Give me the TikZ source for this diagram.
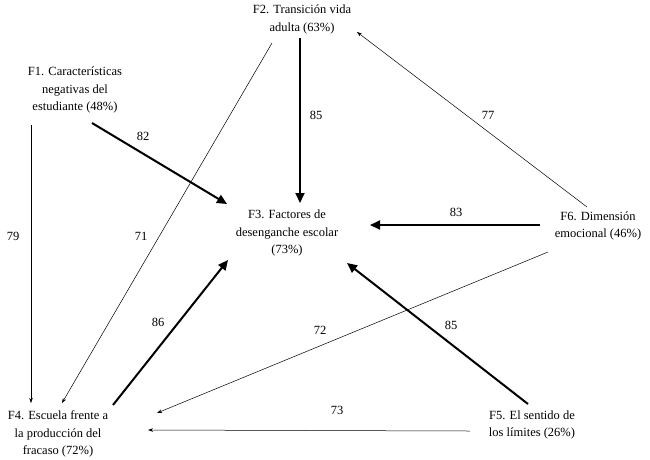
\documentclass[tikz,border=0pt]{standalone}
\usepackage{fontspec}
\setmainfont{Liberation Serif}
\usetikzlibrary{arrows.meta}
\begin{document}
\begin{tikzpicture}[x=1pt,y=-1pt,
  factor/.style={align=center,inner sep=0pt,font=\fontsize{12.5}{17.5}\selectfont},
  lbl/.style={inner sep=0pt,font=\fontsize{12.5}{15}\selectfont},
  strong/.style={line width=2pt,-{Triangle[length=10pt,width=9pt]}},
  weak/.style={line width=0.5pt,-{Stealth[length=5pt,width=3.5pt]}}]
\useasboundingbox (0,0) rectangle (650,459);
\node[factor] (f1) at (75,90) {F1. Características\\negativas del\\estudiante (48\%)};
\node[factor] (f2) at (302,19.5) {F2. Transición vida\\adulta (63\%)};
\node[factor] (f3) at (287,233) {F3. Factores de\\desenganche escolar\\(73\%)};
\node[factor] (f4) at (58,434) {F4. Escuela frente a\\la producción del\\fracaso (72\%)};
\node[factor] (f5) at (532,425) {F5. El sentido de\\los límites (26\%)};
\node[factor] (f6) at (598,226) {F6. Dimensión\\emocional (46\%)};
% connectors
\draw[strong] ([shift={(17,33)}]f1.center) -- ([shift={(-60,-29)}]f3.center);
\draw[strong] ([shift={(-2,18.5)}]f2.center) -- ([shift={(13,-30)}]f3.center);
\draw[weak] ([shift={(-11,-19)}]f6.center) -- ([shift={(55,12.5)}]f2.center);
\draw[strong] ([shift={(-58,-1)}]f6.center) -- ([shift={(83,-8)}]f3.center);
\draw[weak] ([shift={(-30,23.5)}]f2.center) -- ([shift={(4,-31)}]f4.center);
\draw[weak] ([shift={(-44,35)}]f1.center) -- ([shift={(-27,-31)}]f4.center);
\draw[strong] ([shift={(55,-29)}]f4.center) -- ([shift={(-59,27)}]f3.center);
\draw[strong] ([shift={(-4,-21)}]f5.center) -- ([shift={(60,30)}]f3.center);
\draw[weak] ([shift={(-50,26)}]f6.center) -- ([shift={(99,-21)}]f4.center);
\draw[weak] ([shift={(-62,6)}]f5.center) -- ([shift={(90,-4)}]f4.center);
% labels
\node[lbl] (l82) at (143,136) {82};
\node[lbl] (l85a) at (316,115) {85};
\node[lbl] (l77) at (488,115) {77};
\node[lbl] (l83) at (456,212) {83};
\node[lbl] (l79) at (13,236) {79};
\node[lbl] (l71) at (141,236) {71};
\node[lbl] (l86) at (158,322) {86};
\node[lbl] (l72) at (320,330) {72};
\node[lbl] (l85b) at (451,325) {85};
\node[lbl] (l73) at (337,410) {73};
\end{tikzpicture}
\end{document}
